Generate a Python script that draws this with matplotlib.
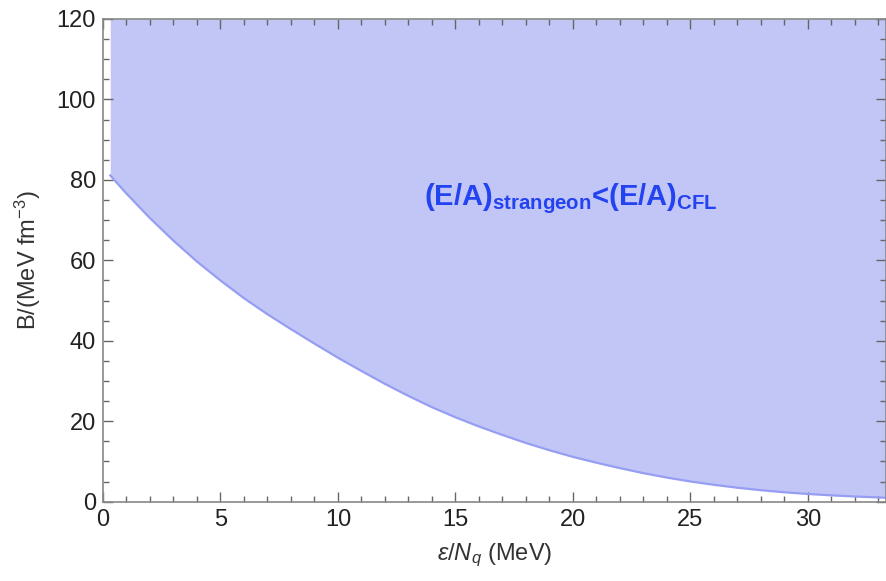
import matplotlib
matplotlib.use("Agg")
import matplotlib.pyplot as plt
from matplotlib.ticker import MultipleLocator

plt.rcParams['font.family'] = ['Liberation Sans', 'DejaVu Sans']
plt.rcParams['mathtext.fontset'] = 'custom'
plt.rcParams['mathtext.rm'] = 'Liberation Sans'
plt.rcParams['mathtext.it'] = 'Liberation Sans:italic'
plt.rcParams['mathtext.bf'] = 'Liberation Sans:bold'

# boundary curve: (E/A)_strangeon = (E/A)_CFL
eps_nq = [0.31, 1, 2, 3, 4, 5, 6, 7, 8, 9, 10, 11, 12, 13, 14, 15, 16, 17,
          18, 19, 20, 21, 22, 23, 24, 25, 26, 27, 28, 29, 30, 31, 32, 33.33]
b_bound = [81.1, 76.6, 70.5, 64.9, 59.7, 55.0, 50.6, 46.6, 42.9, 39.3, 35.8,
           32.5, 29.3, 26.3, 23.5, 21.0, 18.7, 16.6, 14.6, 12.8, 11.15, 9.7,
           8.35, 7.1, 6.0, 5.03, 4.2, 3.48, 2.86, 2.34, 1.92, 1.58, 1.29, 0.98]
y_top = 120
region_label = r"$\mathbf{(E/A)_{strangeon}}$<$\mathbf{(E/A)_{CFL}}$"

fig = plt.figure(figsize=(8.87, 5.81), dpi=100)
ax = fig.add_axes([0.1161, 0.1365, 0.8827, 0.8308])

ax.fill_between(eps_nq, b_bound, y_top, color='#c2c6f7', linewidth=0)
ax.plot(eps_nq, b_bound, color='#959ef3', linewidth=1.6)

ax.text(19.9, 75.4, region_label, color='#2343f0', fontsize=21,
        fontweight='bold', ha='center', va='center')

ax.set_xlim(0, 33.33)
ax.set_ylim(0, 120)
ax.xaxis.set_major_locator(MultipleLocator(5))
ax.xaxis.set_minor_locator(MultipleLocator(1))
ax.yaxis.set_major_locator(MultipleLocator(20))
ax.yaxis.set_minor_locator(MultipleLocator(5))
ax.tick_params(which='both', direction='in', top=True, right=True,
               color='#666666', width=1.0)
ax.tick_params(which='major', length=7, labelsize=17, labelcolor='#222222', pad=5)
ax.tick_params(which='minor', length=4)
for s in ax.spines.values():
    s.set_color('#888888')
    s.set_linewidth(1.2)

ax.set_xlabel(r"$\epsilon/N_q$ (MeV)", fontsize=17, color='#333333', labelpad=8)
ax.set_ylabel(r"B/(MeV fm$^{-3}$)", fontsize=17, color='#333333', labelpad=10)

fig.savefig("out.png", dpi=100)
